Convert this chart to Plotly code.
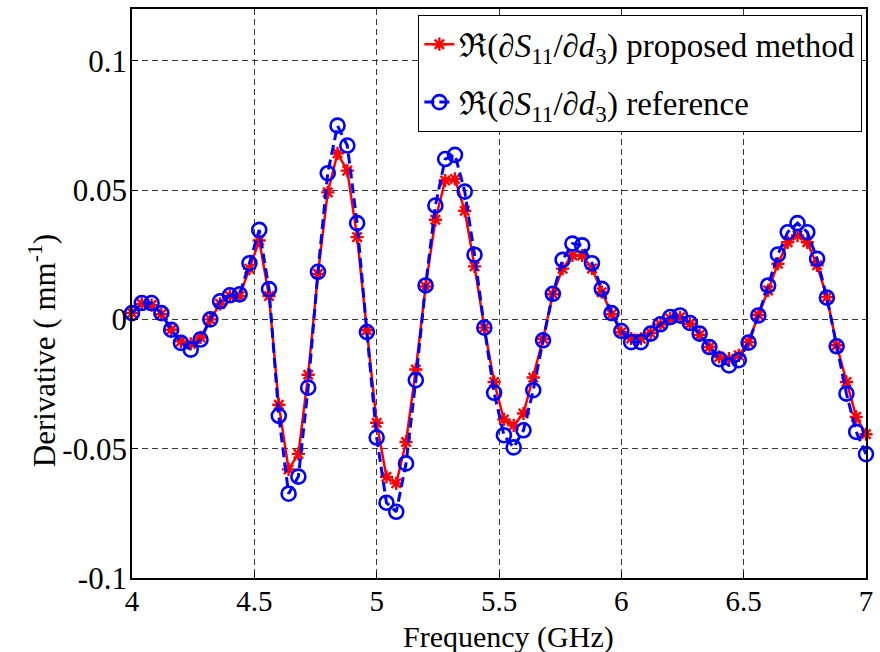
import plotly.graph_objects as go

freq_ghz = [4.00, 4.04, 4.08, 4.12, 4.16, 4.20, 4.24, 4.28, 4.32, 4.36,
            4.40, 4.44, 4.48, 4.52, 4.56, 4.60, 4.64, 4.68, 4.72, 4.76,
            4.80, 4.84, 4.88, 4.92, 4.96, 5.00, 5.04, 5.08, 5.12, 5.16,
            5.20, 5.24, 5.28, 5.32, 5.36, 5.40, 5.44, 5.48, 5.52, 5.56,
            5.60, 5.64, 5.68, 5.72, 5.76, 5.80, 5.84, 5.88, 5.92, 5.96,
            6.00, 6.04, 6.08, 6.12, 6.16, 6.20, 6.24, 6.28, 6.32, 6.36,
            6.40, 6.44, 6.48, 6.52, 6.56, 6.60, 6.64, 6.68, 6.72, 6.76,
            6.80, 6.84, 6.88, 6.92, 6.96, 7.00]

proposed = [0.0025, 0.0060, 0.0055, 0.0020, -0.0040, -0.0085, -0.0095, -0.0070, 0.0000, 0.0060,
            0.0090, 0.0090, 0.0196, 0.0305, 0.0090, -0.0330, -0.0580, -0.0520, -0.0214, 0.0176,
            0.0491, 0.0642, 0.0575, 0.0318, -0.0042, -0.0400, -0.0609, -0.0634, -0.0474, -0.0194,
            0.0127, 0.0385, 0.0537, 0.0543, 0.0420, 0.0205, -0.0032, -0.0242, -0.0387, -0.0410,
            -0.0364, -0.0225, -0.0075, 0.0097, 0.0196, 0.0247, 0.0247, 0.0197, 0.0105, 0.0020,
            -0.0050, -0.0074, -0.0075, -0.0053, -0.0020, 0.0003, 0.0008, -0.0017, -0.0060, -0.0107,
            -0.0145, -0.0152, -0.0139, -0.0088, 0.0017, 0.0112, 0.0215, 0.0298, 0.0324, 0.0298,
            0.0209, 0.0086, -0.0100, -0.0242, -0.0377, -0.0444]

reference = [0.0024, 0.0063, 0.0063, 0.0024, -0.0040, -0.0091, -0.0117, -0.0078, 0.0000, 0.0070,
             0.0093, 0.0097, 0.0217, 0.0346, 0.0117, -0.0373, -0.0674, -0.0608, -0.0264, 0.0184,
             0.0565, 0.0749, 0.0672, 0.0372, -0.0049, -0.0457, -0.0709, -0.0744, -0.0557, -0.0235,
             0.0131, 0.0440, 0.0620, 0.0636, 0.0494, 0.0250, -0.0032, -0.0284, -0.0448, -0.0495,
             -0.0429, -0.0274, -0.0081, 0.0099, 0.0230, 0.0293, 0.0286, 0.0217, 0.0118, 0.0024,
             -0.0045, -0.0088, -0.0088, -0.0055, -0.0019, 0.0009, 0.0015, -0.0014, -0.0055, -0.0107,
             -0.0154, -0.0178, -0.0158, -0.0090, 0.0015, 0.0131, 0.0251, 0.0337, 0.0372, 0.0337,
             0.0234, 0.0084, -0.0104, -0.0287, -0.0435, -0.0521]

x_ticks = [4, 4.5, 5, 5.5, 6, 6.5, 7]
x_tick_labels = ["4", "4.5", "5", "5.5", "6", "6.5", "7"]
y_ticks = [-0.1, -0.05, 0, 0.05, 0.1]
y_tick_labels = ["-0.1", "-0.05", "0", "0.05", "0.1"]

name_proposed = "ℜ(∂<i>S</i><sub>11</sub>/∂<i>d</i><sub>3</sub>) proposed method"
name_reference = "ℜ(∂<i>S</i><sub>11</sub>/∂<i>d</i><sub>3</sub>) reference"
x_title = "Frequency (GHz)"
y_title = "Derivative ( mm<sup>-1</sup>)"

FONT = "Liberation Serif, Times New Roman, serif"

fig = go.Figure()
fig.add_trace(go.Scatter(
    x=freq_ghz, y=proposed, name=name_proposed, mode="lines+markers",
    legendgroup="a", cliponaxis=False,
    line=dict(color="#ff0000", width=2.5),
    marker=dict(symbol="asterisk-open", size=11, color="#ff0000",
                line=dict(color="#ff0000", width=2.4)),
))
fig.add_trace(go.Scatter(
    x=freq_ghz, y=reference, name=name_reference, mode="lines+markers",
    legendgroup="b", cliponaxis=False,
    line=dict(color="#0000ff", width=3, dash="10px,5px"),
    marker=dict(symbol="circle-open", size=14, color="#0000ff",
                line=dict(color="#0000ff", width=2.6)),
))

axis_common = dict(
    showline=True, linecolor="black", linewidth=1.8, mirror=True,
    ticks="inside", ticklen=6, tickcolor="black", tickwidth=1,
    showgrid=True, gridcolor="#383838", gridwidth=1, griddash="6px,4px",
    zeroline=False,
)

fig.update_layout(
    width=880, height=652,
    margin=dict(l=132, r=8, t=7, b=74),
    paper_bgcolor="white", plot_bgcolor="white",
    font=dict(family=FONT, color="black"),
    showlegend=True,
    legend=dict(
        x=0.9946, y=0.9895, xanchor="right", yanchor="top",
        bgcolor="white", bordercolor="black", borderwidth=1.3,
        font=dict(family=FONT, size=33, color="black"),
        itemwidth=30, tracegroupgap=12,
    ),
    xaxis=dict(
        range=[4, 7], tickvals=x_ticks, ticktext=x_tick_labels,
        tickfont=dict(family=FONT, size=29, color="black"),
        ticklabelstandoff=-4,
        **axis_common,
    ),
    yaxis=dict(
        range=[-0.1, 0.12], tickvals=y_ticks, ticktext=y_tick_labels,
        tickfont=dict(family=FONT, size=31, color="black"),
        ticklabelstandoff=-3,
        **axis_common,
    ),
    annotations=[
        dict(text=x_title, xref="paper", yref="paper", x=0.5135, y=-0.1035,
             xanchor="center", yanchor="middle", showarrow=False,
             font=dict(family=FONT, size=30, color="black")),
        dict(text=y_title, xref="paper", yref="paper", x=-0.1215, y=0.400,
             xanchor="center", yanchor="middle", textangle=-90, showarrow=False,
             font=dict(family=FONT, size=31, color="black")),
    ],
)

fig.write_html("out.html", config={"displayModeBar": False},
               post_script="document.body.style.margin='0';")
